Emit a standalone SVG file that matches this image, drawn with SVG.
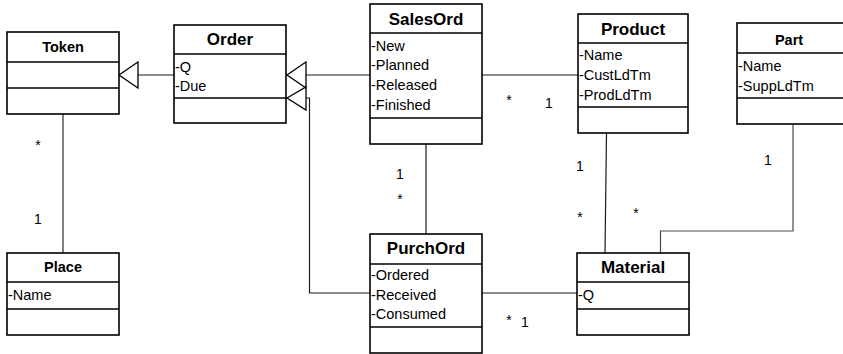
<svg xmlns="http://www.w3.org/2000/svg" width="843" height="354" viewBox="0 0 843 354">
<style>
.box{fill:#fff;stroke:#000;stroke-width:1.6}
.div{stroke:#000;stroke-width:1.6}
.t{font-family:"Liberation Sans",Arial,sans-serif;font-weight:bold;font-size:17px;text-anchor:middle;fill:#000}
.ts{font-family:"Liberation Sans",Arial,sans-serif;font-weight:bold;font-size:14.5px;text-anchor:middle;fill:#000}
.a{font-family:"Liberation Sans",Arial,sans-serif;font-size:14.5px;fill:#000}
.m{font-family:"Liberation Sans",Arial,sans-serif;font-size:14px;fill:#000;text-anchor:middle}
.c{fill:none;stroke:#1a1a1a;stroke-width:1.2}
.g{fill:none;stroke:#7f7f7f;stroke-width:2}
.tri{fill:#fff;stroke:#000;stroke-width:1.3}
</style>
<rect width="843" height="354" fill="#fff"/>
<g id="connectors">
<line class="g" x1="63" y1="114" x2="63" y2="253"/>
<line class="c" x1="138" y1="75" x2="174" y2="75"/>
<polygon class="tri" points="119,75 138,62 138,88"/>
<line class="c" x1="306" y1="75" x2="370" y2="75"/>
<polyline class="c" points="306,98 309.5,98 309.5,293 370,293"/>
<polygon class="tri" points="287,75 306,62 306,88"/>
<polygon class="tri" points="287,98 306,87 306,110"/>
<line class="c" x1="482" y1="75" x2="578" y2="75"/>
<line class="c" x1="426" y1="144" x2="426" y2="234"/>
<line class="c" x1="482" y1="293" x2="577" y2="293"/>
<line class="c" x1="606.5" y1="133" x2="605" y2="253"/>
<polyline class="c" points="793,124 793,231 660.5,231 660.5,253" style="stroke:#4a4a4a"/>
<text class="m" x="38" y="150">*</text>
<text class="m" x="38" y="224">1</text>
<text class="m" x="509" y="105">*</text>
<text class="m" x="549" y="108">1</text>
<text class="m" x="400" y="179">1</text>
<text class="m" x="400" y="204">*</text>
<text class="m" x="509" y="325">*</text>
<text class="m" x="525" y="327">1</text>
<text class="m" x="580" y="171">1</text>
<text class="m" x="580" y="222">*</text>
<text class="m" x="636" y="218">*</text>
<text class="m" x="768" y="165">1</text>
</g>
<g id="Token">
<rect class="box" x="7" y="32" width="112" height="82"/>
<line class="div" x1="7" y1="62" x2="119" y2="62"/>
<line class="div" x1="7" y1="88" x2="119" y2="88"/>
<text class="ts" x="63" y="52">Token</text>
</g>
<g id="Order">
<rect class="box" x="174" y="25" width="112" height="98"/>
<line class="div" x1="174" y1="54" x2="286" y2="54"/>
<line class="div" x1="174" y1="98" x2="286" y2="98"/>
<text class="t" x="230" y="44.5">Order</text>
<text class="a" x="175" y="71.5">-Q</text>
<text class="a" x="175" y="91">-Due</text>
</g>
<g id="SalesOrd">
<rect class="box" x="370" y="4" width="112" height="140"/>
<line class="div" x1="370" y1="33" x2="482" y2="33"/>
<line class="div" x1="370" y1="118" x2="482" y2="118"/>
<text class="t" x="426" y="24.5">SalesOrd</text>
<text class="a" x="371" y="50.5">-New</text>
<text class="a" x="371" y="70">-Planned</text>
<text class="a" x="371" y="90">-Released</text>
<text class="a" x="371" y="110">-Finished</text>
</g>
<g id="Product">
<rect class="box" x="578" y="14" width="110" height="119"/>
<line class="div" x1="578" y1="43" x2="688" y2="43"/>
<line class="div" x1="578" y1="107" x2="688" y2="107"/>
<text class="t" x="633" y="34.5">Product</text>
<text class="a" x="579" y="60">-Name</text>
<text class="a" x="579" y="80">-CustLdTm</text>
<text class="a" x="579" y="100">-ProdLdTm</text>
</g>
<g id="Part">
<rect class="box" x="737" y="23" width="110" height="101"/>
<line class="div" x1="737" y1="53" x2="847" y2="53"/>
<line class="div" x1="737" y1="98" x2="847" y2="98"/>
<text class="ts" x="789" y="44.5">Part</text>
<text class="a" x="738" y="70.5">-Name</text>
<text class="a" x="738" y="90.5">-SuppLdTm</text>
</g>
<g id="Place">
<rect class="box" x="7" y="253" width="112" height="82"/>
<line class="div" x1="7" y1="282" x2="119" y2="282"/>
<line class="div" x1="7" y1="309" x2="119" y2="309"/>
<text class="ts" x="63" y="272">Place</text>
<text class="a" x="8" y="300">-Name</text>
</g>
<g id="PurchOrd">
<rect class="box" x="370" y="234" width="112" height="119"/>
<line class="div" x1="370" y1="264" x2="482" y2="264"/>
<line class="div" x1="370" y1="327" x2="482" y2="327"/>
<text class="t" x="426" y="253.5">PurchOrd</text>
<text class="a" x="371" y="280">-Ordered</text>
<text class="a" x="371" y="300">-Received</text>
<text class="a" x="371" y="319">-Consumed</text>
</g>
<g id="Material">
<rect class="box" x="577" y="253" width="112" height="82"/>
<line class="div" x1="577" y1="282" x2="689" y2="282"/>
<line class="div" x1="577" y1="309" x2="689" y2="309"/>
<text class="t" x="633" y="272.5">Material</text>
<text class="a" x="578" y="300">-Q</text>
</g>
</svg>
